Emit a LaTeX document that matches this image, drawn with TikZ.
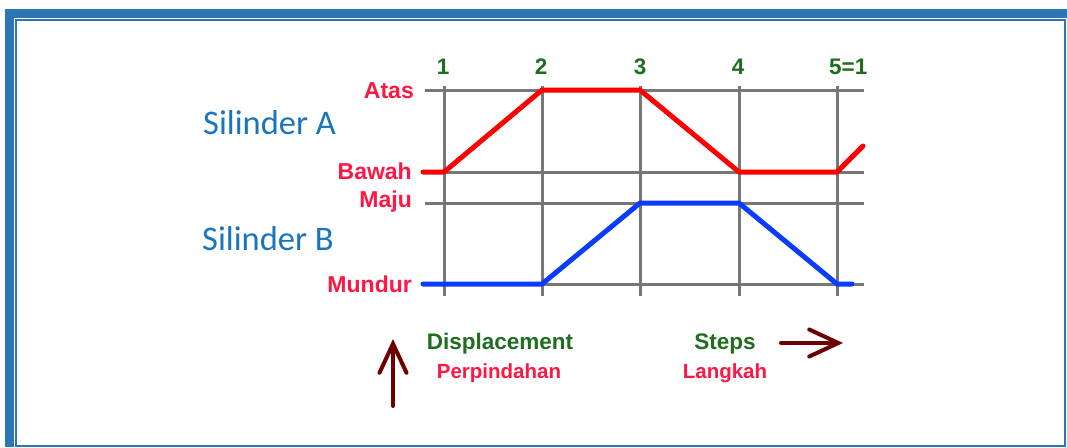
\documentclass[tikz,border=0pt]{standalone}
\usepackage{fontspec}
\setmainfont{Liberation Sans}
\newfontfamily\calib{Carlito}
\usetikzlibrary{arrows.meta}
\definecolor{frameblue}{HTML}{2E75B6}
\definecolor{lblred}{HTML}{FF1744}
\definecolor{silblue}{HTML}{1A75BC}
\definecolor{stepgreen}{HTML}{1E6E1E}
\definecolor{gridgray}{HTML}{777777}
\definecolor{maroon}{HTML}{6B0000}
\definecolor{lineblue}{HTML}{0A3CFF}
\tikzset{
  lvl/.style={anchor=base east, inner sep=0pt, text=lblred, font=\bfseries\fontsize{23}{27}\selectfont},
  num/.style={anchor=base, inner sep=0pt, text=stepgreen, font=\bfseries\fontsize{22.5}{27}\selectfont},
  sil/.style={anchor=base west, inner sep=0pt, text=silblue, font=\calib\fontsize{34.5}{40}\selectfont},
  engl/.style={anchor=base, inner sep=0pt, text=stepgreen, font=\bfseries\fontsize{22.5}{27}\selectfont},
  indo/.style={anchor=base, inner sep=0pt, text=lblred, font=\bfseries\fontsize{20.5}{25}\selectfont},
  gridline/.style={draw=gridgray, line width=3pt},
  cylA/.style={draw=red, line width=5pt, line cap=round, line join=round},
  cylB/.style={draw=lineblue, line width=5pt, line cap=round, line join=round},
  dirarrow/.style={draw=maroon, line width=4pt, line cap=round, -{Straight Barb[length=29pt,width=27pt,line cap=round]}}
}
\begin{document}
\begin{tikzpicture}[x=1pt,y=-1pt]
\useasboundingbox (0,0) rectangle (1067,447);
% frame
\fill[frameblue] (5,9) rectangle (1067,447);
\fill[white] (14,18) rectangle (1067,447);
\draw[frameblue, line width=2pt] (16,20) rectangle (1065,445.5);
% grid
\foreach \yy in {90,172,203,284} \draw[gridline] (425,\yy) -- (864,\yy);
\foreach \xx in {444,542,640,739,837} \draw[gridline] (\xx,86) -- (\xx,296);
% key coordinates
\coordinate (a0) at (423,172);
\coordinate (a1) at (444,172);
\coordinate (a2) at (542,90);
\coordinate (a3) at (640,90);
\coordinate (a4) at (739,172);
\coordinate (a5) at (837,172);
\coordinate (a6) at (863,146);
\coordinate (b0) at (423,284);
\coordinate (b1) at (542,284);
\coordinate (b2) at (640,203);
\coordinate (b3) at (739,203);
\coordinate (b4) at (837,284);
\coordinate (b5) at (852,284);
\draw[cylA] (a0) -- (a1) -- (a2) -- (a3) -- (a4) -- (a5) -- (a6);
\draw[cylB] (b0) -- (b1) -- (b2) -- (b3) -- (b4) -- (b5);
% step numbers
\node[num] (n1) at (443,74) {1};
\node[num] (n2) at (541,74) {2};
\node[num] (n3) at (640,74) {3};
\node[num] (n4) at (738,74) {4};
\node[num, anchor=base west] (n5) at (829,74) {5=1};
% level labels
\node[lvl] (atas) at (414,98) {Atas};
\node[lvl] (bawah) at (412,179) {Bawah};
\node[lvl] (maju) at (412,207) {Maju};
\node[lvl] (mundur) at (412,292) {Mundur};
% cylinder names
\node[sil] (silA) at (203,134) {Silinder A};
\node[sil] (silB) at (202,250) {Silinder B};
% bottom legend
\node[engl] (disp) at (500,349) {Displacement};
\node[indo] (perp) at (499,378) {Perpindahan};
\node[engl] (steps) at (725,349) {Steps};
\node[indo] (lang) at (725,378) {Langkah};
\coordinate (upS) at (393,406);
\coordinate (upE) at (393,339);
\coordinate (rtS) at (781,343);
\coordinate (rtE) at (843,343);
\draw[dirarrow] (upS) -- (upE);
\draw[dirarrow] (rtS) -- (rtE);
\end{tikzpicture}
\end{document}
